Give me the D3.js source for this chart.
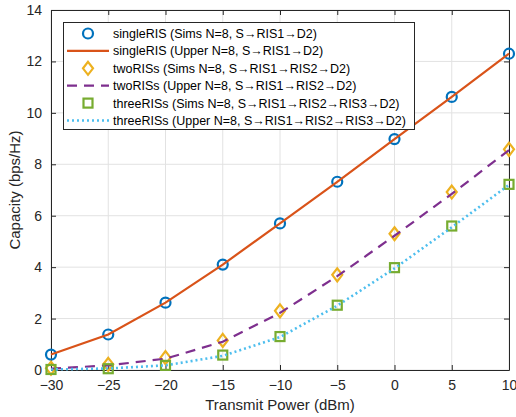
<!DOCTYPE html>
<html>
<head>
<meta charset="utf-8">
<script src="https://cdn.jsdelivr.net/npm/d3@7"></script>
<style>
  body { margin: 0; background: #fff; }
  text { font-family: "Liberation Sans", Arial, sans-serif; }
</style>
</head>
<body>
<div id="container"></div>
<script>
// data
let power = [-30, -25, -20, -15, -10, -5, 0, 5, 10];
let singleSims  = [0.6, 1.38, 2.62, 4.1, 5.7, 7.32, 8.98, 10.62, 12.3];
let singleUpper = [0.6, 1.38, 2.62, 4.1, 5.7, 7.32, 8.98, 10.62, 12.3];
let twoSims     = [0.07, 0.22, 0.48, 1.15, 2.3, 3.7, 5.3, 6.92, 8.58];
let twoUpper    = [0.05, 0.18, 0.44, 1.1, 2.22, 3.65, 5.22, 6.85, 8.55];
let threeSims   = [0.02, 0.05, 0.18, 0.58, 1.3, 2.52, 3.98, 5.6, 7.22];
let threeUpper  = [0.02, 0.06, 0.18, 0.55, 1.28, 2.5, 3.95, 5.55, 7.2];
let xTicks = [-30, -25, -20, -15, -10, -5, 0, 5, 10];
let yTicks = [0, 2, 4, 6, 8, 10, 12, 14];
let legendLabels = [
  "singleRIS (Sims N=8, S\u2192RIS1\u2192D2)",
  "singleRIS (Upper N=8, S\u2192RIS1\u2192D2)",
  "twoRISs (Sims N=8, S\u2192RIS1\u2192RIS2\u2192D2)",
  "twoRISs (Upper N=8, S\u2192RIS1\u2192RIS2\u2192D2)",
  "threeRISs (Sims N=8, S\u2192RIS1\u2192RIS2\u2192RIS3\u2192D2)",
  "threeRISs (Upper N=8, S\u2192RIS1\u2192RIS2\u2192RIS3\u2192D2)"
];

let w = 516;
let h = 417;
let padL = 51, padR = 509, padT = 10, padB = 370;

let viz = d3.select("#container")
  .append("svg")
    .attr("width", w)
    .attr("height", h)
;

let xScale = d3.scaleLinear().domain([-30, 10]).range([padL, padR]);
let yScale = d3.scaleLinear().domain([0, 14]).range([padB, padT]);

// grid
let grid = viz.append("g").classed("grid", true);
grid.selectAll(".vx").data(xTicks).enter().append("line")
  .attr("x1", d=>xScale(d)).attr("x2", d=>xScale(d))
  .attr("y1", padT).attr("y2", padB)
  .attr("stroke", "#e2e2e2").attr("stroke-width", 1);
grid.selectAll(".hy").data(yTicks).enter().append("line")
  .attr("x1", padL).attr("x2", padR)
  .attr("y1", d=>yScale(d)).attr("y2", d=>yScale(d))
  .attr("stroke", "#e2e2e2").attr("stroke-width", 1);

// axes (ticks inward, box all round)
let xAxis = d3.axisBottom(xScale).tickValues(xTicks).tickSizeInner(-5).tickSizeOuter(0).tickPadding(10);
let xAxisGroup = viz.append("g").attr("transform", "translate(0," + padB + ")").call(xAxis);
let xTop = viz.append("g").attr("transform", "translate(0," + padT + ")")
  .call(d3.axisTop(xScale).tickValues(xTicks).tickSizeInner(-5).tickSizeOuter(0).tickFormat(""));
let yAxis = d3.axisLeft(yScale).tickValues(yTicks).tickSizeInner(-5).tickSizeOuter(0).tickPadding(9);
let yAxisGroup = viz.append("g").attr("transform", "translate(" + padL + ",0)").call(yAxis);
let yRight = viz.append("g").attr("transform", "translate(" + padR + ",0)")
  .call(d3.axisRight(yScale).tickValues(yTicks).tickSizeInner(-5).tickSizeOuter(0).tickFormat(""));

[xAxisGroup, xTop, yAxisGroup, yRight].forEach(g=>{
  g.selectAll("path").attr("stroke", "#262626").attr("stroke-width", 1);
  g.selectAll("line").attr("stroke", "#262626");
  g.selectAll("text").attr("font-size", 14).attr("fill", "#262626")
    .attr("font-family", "Liberation Sans, Arial, sans-serif");
});

viz.append("text")
  .attr("x", (padL + padR) / 2).attr("y", 410)
  .attr("text-anchor", "middle").attr("font-size", 15).attr("fill", "#262626")
  .text("Transmit Power (dBm)");
viz.append("text")
  .attr("transform", "translate(20," + ((padT + padB) / 2) + ") rotate(-90)")
  .attr("text-anchor", "middle").attr("font-size", 15).attr("fill", "#262626")
  .text("Capacity (bps/Hz)");

let series = [
  {vals: singleSims, color: "#0072BD", marker: "circle"},
  {vals: singleUpper, color: "#D95319", dash: null},
  {vals: twoSims, color: "#EDB120", marker: "diamond"},
  {vals: twoUpper, color: "#7E2F8E", dash: "10,7"},
  {vals: threeSims, color: "#77AC30", marker: "square"},
  {vals: threeUpper, color: "#4DBEEE", dash: "2,3"}
];

let lineGen = d3.line().x((d,i)=>xScale(power[i])).y(d=>yScale(d));
let graphGroup = viz.append("g").classed("graphGroup", true);

function drawMarker(g, type, color, x, y){
  if(type=="circle"){
    g.append("circle").attr("cx", x).attr("cy", y).attr("r", 5)
      .attr("fill", "none").attr("stroke", color).attr("stroke-width", 2.2);
  }
  else if(type=="diamond"){
    g.append("path").attr("d", "M"+x+","+(y-6.5)+"L"+(x+5)+","+y+"L"+x+","+(y+6.5)+"L"+(x-5)+","+y+"Z")
      .attr("fill", "none").attr("stroke", color).attr("stroke-width", 2.2);
  }
  else if(type=="square"){
    g.append("rect").attr("x", x-4.5).attr("y", y-4.5).attr("width", 9).attr("height", 9)
      .attr("fill", "none").attr("stroke", color).attr("stroke-width", 2.2);
  }
}

series.forEach(s=>{
  if(s.marker){
    s.vals.forEach((v,i)=>drawMarker(graphGroup, s.marker, s.color, xScale(power[i]), yScale(v)));
  } else {
    graphGroup.append("path").datum(s.vals)
      .attr("d", lineGen)
      .attr("fill", "none")
      .attr("stroke", s.color)
      .attr("stroke-width", s.dash=="2,3" ? 2.6 : 2.2)
      .attr("stroke-dasharray", s.dash);
  }
});

// legend
let legend = viz.append("g").classed("legend", true);
legend.append("rect")
  .attr("x", 63.5).attr("y", 22.5).attr("width", 351).attr("height", 107)
  .attr("fill", "#fff").attr("stroke", "#262626").attr("stroke-width", 1);
series.forEach((s,i)=>{
  let yy = 33.5 + i * 17.4;
  if(s.marker){
    drawMarker(legend, s.marker, s.color, 88, yy);
  } else {
    legend.append("line").attr("x1", 67).attr("x2", 109).attr("y1", yy).attr("y2", yy)
      .attr("stroke", s.color)
      .attr("stroke-width", s.dash=="2,3" ? 2.6 : 2.2)
      .attr("stroke-dasharray", s.dash);
  }
  legend.append("text").attr("x", 113).attr("y", yy + 4.5)
    .attr("font-size", 12.5).attr("fill", "#000")
    .text(legendLabels[i]);
});
</script>
</body>
</html>
